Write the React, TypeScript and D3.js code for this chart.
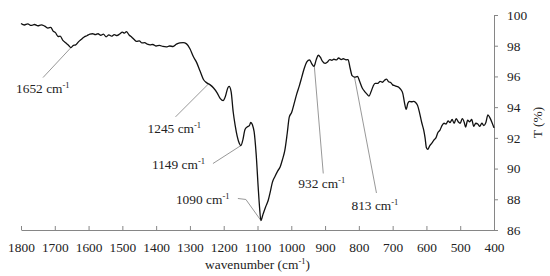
import { useEffect, useRef } from 'react'
import * as d3 from 'd3'

// FTIR spectrum
const wavenumbers = [
  1800, 1790, 1780, 1770, 1760, 1750, 1740, 1730, 1720, 1712, 1705, 1698, 1690, 1684, 1676, 1668,
  1660, 1652, 1645, 1638, 1630, 1622, 1614, 1605, 1596, 1588, 1580, 1572, 1564, 1556, 1548, 1540,
  1532, 1524, 1516, 1508, 1500, 1494, 1488, 1480, 1472, 1465, 1458, 1450, 1442, 1434, 1426, 1418,
  1410, 1400, 1390, 1380, 1370, 1360, 1350, 1340, 1330, 1320, 1310, 1300, 1290, 1280, 1270, 1260,
  1250, 1240, 1230, 1220, 1210, 1202, 1195, 1188, 1184, 1178, 1172, 1166, 1160, 1154, 1149, 1143,
  1137, 1130, 1124, 1120, 1115, 1110, 1104, 1098, 1094, 1090, 1084, 1076, 1068, 1062, 1056, 1048,
  1040, 1033, 1026, 1019, 1012, 1006, 999, 992, 984, 976, 969, 962, 954, 946, 940, 933,
  926, 920, 914, 908, 900, 894, 886, 880, 874, 866, 860, 852, 846, 838, 832, 826,
  820, 812, 804, 798, 790, 782, 776, 770, 764, 758, 752, 744, 737, 730, 724, 718,
  712, 706, 700, 694, 688, 682, 676, 670, 665, 660, 655, 650, 644, 638, 632, 626,
  620, 614, 608, 604, 600, 596, 590, 584, 578, 572, 566, 560, 554, 548, 542, 536,
  530, 524, 518, 512, 506, 500, 494, 488, 484, 478, 472, 466, 460, 454, 448, 442,
  436, 430, 424, 418, 412, 406, 400,
]
const transmittance = [
  99.45, 99.35, 99.42, 99.32, 99.38, 99.3, 99.36, 99.28, 99.15, 99.2, 98.95, 98.85, 98.6, 98.62, 98.35, 98.2,
  98.05, 97.88, 98.02, 98.05, 98.25, 98.4, 98.55, 98.65, 98.75, 98.78, 98.72, 98.78, 98.68, 98.75, 98.58, 98.7,
  98.62, 98.72, 98.66, 98.76, 98.88, 98.82, 98.92, 98.7, 98.55, 98.4, 98.28, 98.32, 98.18, 98.2, 98.1, 98.05,
  98.08, 97.98, 98.02, 97.95, 97.92, 97.98, 97.95, 98.1, 98.18, 98.2, 98.12, 97.8, 97.3, 96.9, 96.35, 95.8,
  95.58, 95.45, 95.25, 94.95, 94.55, 94.42, 94.7, 95.25, 95.35, 95.0, 93.7, 92.8, 92.1, 91.65, 91.5, 91.9,
  92.55, 92.72, 92.8, 93.0, 92.85, 92.4, 90.95, 88.8, 87.5, 86.62, 87.0, 87.5, 87.95, 88.5, 89.1, 89.5,
  89.85, 90.1, 90.6, 91.2, 92.3, 93.35, 93.65, 94.2, 94.85, 95.4, 95.95, 96.5, 96.95, 97.08, 96.85, 96.65,
  97.1, 97.38, 97.25, 97.0, 96.85, 96.92, 97.1, 97.05, 97.12, 97.08, 97.2, 97.1, 97.15, 97.08, 97.1, 96.55,
  96.05, 95.95, 96.0, 95.7, 95.25, 95.0, 94.85, 94.72, 95.0, 95.35, 95.55, 95.55, 95.68, 95.62, 95.75, 95.82,
  95.65, 95.6, 95.45, 95.4, 95.35, 95.3, 95.15, 94.9, 94.3, 93.85, 94.25, 94.38, 94.35, 94.38, 94.3, 94.1,
  93.6, 93.0, 92.5, 92.0, 91.35, 91.25, 91.5, 91.65, 91.85, 92.0, 92.35, 92.5, 92.8, 92.95, 92.9, 93.1,
  93.0, 93.2, 92.95, 93.25, 93.05, 92.95, 93.25, 93.0, 92.7, 93.15, 93.05, 93.2, 92.75, 92.95, 92.9, 92.75,
  92.95, 92.8, 93.0, 93.5, 93.3, 93.0, 92.65,
]

const xTicks = [1800, 1700, 1600, 1500, 1400, 1300, 1200, 1100, 1000, 900, 800, 700, 600, 500, 400]
const yTicks = [86, 88, 90, 92, 94, 96, 98, 100]

// marked bands
const peakBands = [1652, 1245, 1149, 1090, 932, 813]

// leader line / label layout, in pixels relative to the band's point on the curve
const peakLayout = [
  { path: [[-28, 30]], label: [-55, 45] },
  { path: [[-33, 33]], label: [-61, 49] },
  { path: [[-28, 18]], label: [-89, 23] },
  { path: [[-15, -21], [-23, -22]], label: [-85, -16] },
  { path: [[9, 108]], label: [-16, 123] },
  { path: [[22, 116]], label: [-3, 133] },
]

const W = 550
const H = 276
const margin = { top: 15, right: 56, bottom: 46, left: 21 }
const font = 'Liberation Serif, Times New Roman, serif'
const fontSize = 13.4

export default function App() {
  const ref = useRef<SVGSVGElement>(null)

  useEffect(() => {
    if (!ref.current) return
    const svg = d3.select(ref.current)
    svg.selectAll('*').remove()

    const innerW = W - margin.left - margin.right
    const innerH = H - margin.top - margin.bottom
    const x = d3.scaleLinear().domain([1800, 400]).range([margin.left, margin.left + innerW])
    const y = d3.scaleLinear().domain([86, 100]).range([margin.top + innerH, margin.top])

    const axisColor = '#868686'
    const textColor = '#222'

    // x axis
    const gx = svg
      .append('g')
      .attr('transform', `translate(0,${margin.top + innerH})`)
      .call(
        d3
          .axisBottom(x)
          .tickValues(xTicks)
          .tickFormat(d3.format('d'))
          .tickSize(-4)
          .tickSizeOuter(0),
      )
    gx.attr('font-family', null).attr('font-size', null)
    gx.select('.domain').attr('stroke', axisColor)
    gx.selectAll('.tick line').attr('stroke', axisColor)
    gx.selectAll('.tick text')
      .style('font-family', font)
      .style('font-size', `${fontSize}px`)
      .attr('fill', textColor)
      .attr('dy', 0)
      .attr('y', 22)

    // y axis on the right
    const gy = svg
      .append('g')
      .attr('transform', `translate(${margin.left + innerW},0)`)
      .call(d3.axisRight(y).tickValues(yTicks).tickSize(4).tickPadding(9).tickSizeOuter(0))
    gy.attr('font-family', null).attr('font-size', null)
    gy.select('.domain').attr('stroke', axisColor)
    gy.selectAll('.tick line').attr('stroke', axisColor)
    gy.selectAll('.tick text')
      .style('font-family', font)
      .style('font-size', `${fontSize}px`)
      .attr('fill', textColor)

    // axis titles
    const xt = svg
      .append('text')
      .attr('x', margin.left + innerW / 2)
      .attr('y', 268.5)
      .attr('text-anchor', 'middle')
      .attr('fill', textColor)
      .style('font-family', font)
      .style('font-size', `${fontSize}px`)
    xt.append('tspan').text('wavenumber (cm')
    xt.append('tspan').style('font-size', '8.5px').attr('dy', -5).text('-1')
    xt.append('tspan').attr('dy', 5).text(')')

    svg
      .append('text')
      .attr('transform', `translate(542,${margin.top + innerH / 2}) rotate(-90)`)
      .attr('text-anchor', 'middle')
      .attr('fill', textColor)
      .style('font-family', font)
      .style('font-size', `${fontSize}px`)
      .text('T (%)')

    // spectrum
    const pts = wavenumbers.map((w, i) => [w, transmittance[i]] as [number, number])
    const line = d3
      .line<[number, number]>()
      .x((d) => x(d[0]))
      .y((d) => y(d[1]))
      .curve(d3.curveMonotoneX)

    // transmittance at a band, interpolated from the series
    const tAt = (w: number) => {
      const i = wavenumbers.findIndex((v) => v <= w)
      if (i <= 0) return transmittance[Math.max(0, i)]
      const w0 = wavenumbers[i - 1]
      const w1 = wavenumbers[i]
      const t = (w0 - w) / (w0 - w1)
      return transmittance[i - 1] + t * (transmittance[i] - transmittance[i - 1])
    }

    peakBands.forEach((band, i) => {
      const px = x(band)
      const py = y(tAt(band))
      const lay = peakLayout[i]
      const path = [[px, py], ...lay.path.map(([dx, dy]) => [px + dx, py + dy])]
      svg
        .append('path')
        .attr('d', d3.line()(path as [number, number][]))
        .attr('fill', 'none')
        .attr('stroke', '#8c8c8c')
        .attr('stroke-width', 0.9)

      const t = svg
        .append('text')
        .attr('x', px + lay.label[0])
        .attr('y', py + lay.label[1])
        .attr('fill', textColor)
        .style('font-family', font)
        .style('font-size', `${fontSize}px`)
      t.append('tspan').text(`${band} cm`)
      t.append('tspan').style('font-size', '8.5px').attr('dy', -5).text('-1')
    })

    svg
      .append('path')
      .datum(pts)
      .attr('d', line)
      .attr('fill', 'none')
      .attr('stroke', '#111')
      .attr('stroke-width', 1.3)
      .attr('stroke-linejoin', 'round')
  }, [])

  return (
    <svg
      ref={ref}
      width={W}
      height={H}
      style={{ position: 'absolute', left: 0, top: 0, background: '#fff' }}
    />
  )
}
